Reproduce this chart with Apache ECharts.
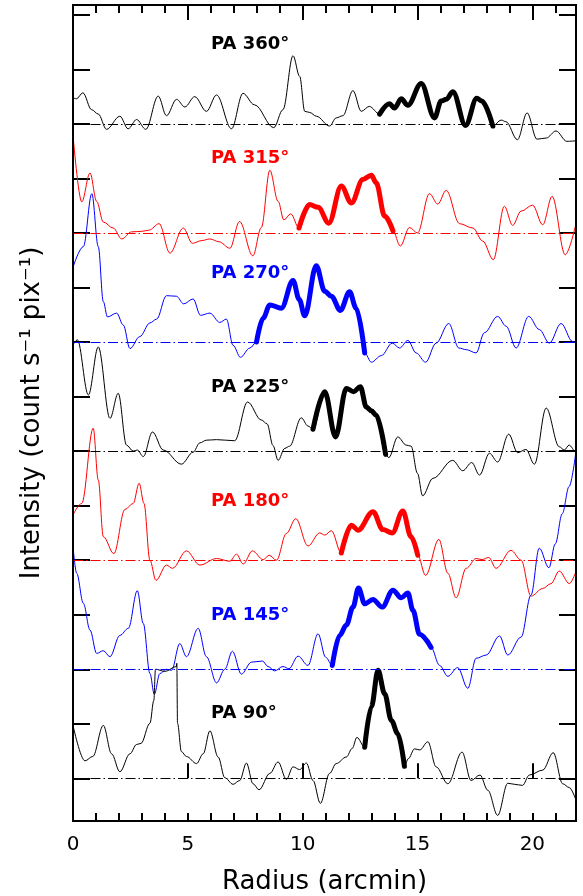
<!DOCTYPE html>
<html>
<head>
<meta charset="utf-8">
<script src="https://cdn.jsdelivr.net/npm/echarts@6/dist/echarts.min.js"></script>
<style>
  html, body { margin: 0; padding: 0; background: #fff; }
  #chart { width: 583px; height: 896px; }
</style>
</head>
<body>
<div id="chart"></div>
<script>
// Radial profiles: [radius (arcmin), intensity above the profile's own baseline]
const pa360 = [[0.0,0.48],[0.15,0.46],[0.43,0.57],[0.81,0.26],[1.1,0.18],[1.46,-0.10],[2.04,0.14],[2.4,-0.09],[2.77,0.08],[3.17,-0.10],[3.71,0.51],[4.07,0.15],[4.51,0.45],[4.87,0.31],[5.3,0.50],[5.81,0.23],[6.25,0.53],[6.9,-0.09],[7.4,0.56],[7.9,0.35],[8.74,-0.07],[9.14,0.26],[9.58,1.25],[9.87,0.87],[10.09,0.23],[10.3,0.21],[10.6,0.14],[11.17,-0.04],[11.46,0.11],[11.75,0.15],[12.19,0.61],[12.55,0.23],[12.9,0.32],[13.35,0.18],[13.78,0.37],[14.0,0.29],[14.29,0.46],[14.58,0.34],[15.16,0.74],[15.74,0.11],[16.03,0.42],[16.25,0.45],[16.54,0.59],[17.09,-0.03],[17.58,0.47],[17.8,0.42],[18.28,-0.04],[18.64,0.07],[18.85,0.04],[19.35,-0.29],[19.77,0.2],[20.2,-0.28],[20.6,-0.26],[21.03,-0.13],[21.5,-0.32],[21.9,-0.31]];
const pa315 = [[0.0,1.8],[0.38,0.57],[0.74,1.1],[1.03,0.58],[1.32,0.20],[1.75,0.09],[2.12,-0.11],[2.55,0.02],[3.0,0.03],[3.3,0.05],[3.75,0.17],[4.22,-0.37],[4.8,0.09],[5.2,-0.19],[5.6,-0.14],[5.96,-0.11],[6.35,-0.16],[6.83,-0.28],[7.25,0.21],[7.83,-0.42],[8.2,0.1],[8.57,1.15],[8.93,0.58],[9.18,0.24],[9.48,0.35],[9.84,0.09],[10.3,0.52],[10.67,0.47],[11.14,0.18],[11.68,0.86],[12.12,0.55],[12.62,0.98],[12.99,1.06],[13.2,0.92],[13.57,0.31],[13.93,0.04],[14.25,-0.24],[14.65,0.10],[15.0,0.0],[15.52,0.72],[15.88,0.53],[16.25,0.78],[16.83,0.17],[17.41,0.09],[17.84,-0.15],[18.3,-0.49],[18.78,0.49],[19.14,0.14],[19.51,0.40],[20.01,0.51],[20.45,0.15],[20.86,0.67],[21.43,-0.40],[21.87,0.12]];
const pa270 = [[0.0,1.37],[0.45,1.75],[0.82,2.72],[1.1,1.75],[1.32,0.74],[1.5,0.46],[1.9,0.53],[2.19,0.31],[2.48,-0.12],[2.91,0.10],[3.35,0.35],[3.64,0.42],[4.07,0.85],[4.5,0.84],[4.82,0.70],[5.23,0.79],[5.55,0.49],[5.96,0.53],[6.39,0.36],[6.68,0.42],[6.97,-0.06],[7.29,-0.28],[7.7,-0.11],[7.99,0.0],[8.28,0.44],[8.57,0.68],[9.07,0.62],[9.58,1.13],[9.85,0.78],[10.09,0.48],[10.59,1.40],[10.96,0.93],[11.25,0.84],[11.64,0.58],[12.04,0.92],[12.33,0.62],[12.7,-0.2],[12.99,-0.37],[13.42,-0.25],[13.9,-0.02],[14.22,-0.11],[14.58,0.03],[14.94,-0.2],[15.35,-0.37],[15.81,-0.02],[16.36,0.34],[16.8,-0.11],[17.12,-0.14],[17.55,-0.20],[17.91,0.17],[18.49,0.47],[18.86,0.29],[19.29,-0.11],[19.84,0.47],[20.3,0.23],[20.74,-0.02],[21.25,0.34],[21.75,0.01],[21.9,-0.02]];
const pa225 = [[0.0,1.95],[0.19,2.04],[0.67,1.03],[1.1,1.91],[1.61,0.60],[1.97,1.06],[2.33,0.11],[2.62,0.0],[2.8,0.02],[3.06,-0.10],[3.46,0.35],[3.93,0.02],[4.72,-0.24],[5.23,-0.02],[5.52,0.15],[5.81,0.20],[6.25,0.21],[7.04,0.19],[7.6,0.90],[8.2,0.57],[8.45,0.50],[8.71,0.1],[8.93,-0.17],[9.22,0.05],[9.43,0.09],[9.94,0.61],[10.23,0.46],[10.45,0.40],[10.96,1.09],[11.43,0.26],[11.9,1.15],[12.22,1.09],[12.51,1.18],[12.77,0.81],[12.99,0.74],[13.2,0.66],[13.61,-0.06],[13.75,-0.12],[14.14,0.26],[14.51,0.11],[14.72,0.09],[15.0,-0.41],[15.22,-0.82],[15.67,-0.50],[16.53,-0.17],[16.97,-0.36],[17.36,-0.21],[17.7,-0.44],[18.13,-0.04],[18.49,-0.20],[18.97,0.31],[19.36,-0.03],[19.72,0.03],[20.09,-0.24],[20.6,0.79],[21.17,0.08],[21.39,0.02],[21.6,0.11],[21.83,-0.01]];
const pa180 = [[0.0,0.83],[0.38,1.04],[0.88,2.42],[1.1,1.47],[1.32,0.43],[1.78,0.12],[2.26,0.93],[2.62,1.04],[2.88,1.41],[3.09,1.04],[3.35,0.0],[3.61,-0.37],[4.07,-0.09],[4.33,-0.15],[4.94,0.17],[5.52,-0.09],[6.25,0.03],[6.83,-0.02],[7.12,0.11],[7.41,-0.07],[7.81,0.17],[8.28,0.01],[8.54,0.09],[8.86,0.0],[9.29,0.49],[9.70,0.76],[10.23,0.26],[10.74,0.50],[10.96,0.46],[11.25,0.54],[11.68,0.13],[12.12,0.64],[12.41,0.55],[13.06,0.89],[13.49,0.56],[13.9,0.50],[14.36,0.90],[14.72,0.43],[15.01,0.09],[15.35,-0.28],[15.93,0.38],[16.32,-0.24],[16.68,-0.69],[17.12,-0.15],[17.55,0.03],[17.81,0.01],[18.1,0.05],[18.42,-0.15],[19.07,0.18],[19.51,0.0],[19.94,-0.66],[20.45,-0.52],[20.81,-0.43],[21.17,-0.20],[21.61,-0.43],[21.87,-0.24]];
const pa145 = [[0.0,2.25],[0.16,1.76],[0.45,1.21],[0.74,0.72],[1.03,0.29],[1.32,0.34],[1.61,0.23],[2.04,0.62],[2.41,0.75],[2.8,1.44],[3.06,0.84],[3.35,-0.08],[3.54,-0.46],[3.78,-0.08],[4.07,0.0],[4.29,-0.02],[4.65,0.47],[4.94,0.23],[5.45,0.75],[5.81,0.23],[6.25,-0.25],[6.61,0.0],[6.94,0.33],[7.33,-0.09],[7.77,0.13],[8.25,0.15],[8.49,0.05],[8.78,-0.03],[9.14,0.05],[9.4,0.01],[9.8,0.24],[10.23,0.07],[10.67,0.65],[11.0,0.22],[11.29,0.07],[11.61,0.62],[11.9,0.81],[12.19,1.14],[12.43,1.49],[12.7,1.20],[13.06,1.28],[13.46,1.14],[13.93,1.45],[14.29,1.31],[14.58,1.40],[14.8,1.08],[15.09,0.64],[15.59,0.40],[15.96,0.07],[16.32,-0.13],[16.75,0.03],[17.19,-0.35],[17.55,0.20],[17.99,0.26],[18.57,0.61],[18.93,0.26],[19.51,0.59],[19.94,1.36],[20.3,2.22],[20.72,1.86],[21.0,2.3],[21.3,2.85],[21.6,3.35],[21.9,4.0]];
const pa90 = [[0.0,0.97],[0.52,0.32],[0.86,0.4],[1.32,0.97],[1.68,0.45],[2.04,0.12],[2.48,0.45],[2.77,0.62],[2.96,0.64],[3.35,1.01],[3.52,1.43],[3.59,2.0],[4.0,1.96],[4.5,2.05],[4.52,2.11],[4.55,1.01],[4.72,0.49],[4.94,0.40],[5.38,0.27],[5.67,0.45],[5.96,0.87],[6.32,0.39],[6.61,0.01],[6.97,-0.11],[7.26,-0.04],[7.55,0.28],[7.84,-0.1],[8.1,-0.21],[8.57,0.09],[8.93,0.30],[9.29,-0.02],[9.58,0.21],[9.87,0.16],[10.16,0.28],[10.45,-0.04],[10.77,-0.46],[11.17,0.09],[11.46,0.27],[11.9,0.39],[12.16,0.55],[12.36,0.75],[12.7,0.57],[12.99,1.31],[13.28,1.98],[13.57,1.55],[13.86,1.06],[14.14,0.82],[14.43,0.22],[14.6,0.36],[14.87,0.54],[15.1,0.52],[15.45,0.67],[15.81,0.21],[16.32,-0.10],[16.94,0.48],[17.33,-0.04],[17.72,0.06],[18.06,-0.22],[18.49,-0.68],[18.93,-0.09],[19.22,-0.11],[19.57,-0.13],[19.87,0.06],[20.45,0.15],[20.91,0.47],[21.32,-0.10],[21.61,-0.17],[21.87,-0.37]];

const profiles = [pa360, pa315, pa270, pa225, pa180, pa145, pa90];
const paNames = ['PA 360°', 'PA 315°', 'PA 270°', 'PA 225°', 'PA 180°', 'PA 145°', 'PA 90°'];
const baselines = [12, 10, 8, 6, 4, 2, 0];
// radius range drawn with the heavy line
const thickRanges = [[13.35, 18.28], [9.84, 13.93], [7.99, 12.7], [10.45, 13.61], [11.68, 15.01], [11.29, 15.59], [12.7, 14.43]];

const colors = ['#000000', '#ff0000', '#0000ff', '#000000', '#ff0000', '#0000ff', '#000000'];
const labelY = [44, 158, 273, 387, 501, 615, 713];

const X_MAX = 21.9;
const font = 'DejaVu Sans, sans-serif';

const chart = echarts.init(document.getElementById('chart'), null, { renderer: 'canvas' });

const series = [];
profiles.forEach((pts, i) => {
  const off = baselines[i];
  const shifted = pts.map(p => [p[0], p[1] + off]);
  const [a, b] = thickRanges[i];
  series.push({
    type: 'line',
    name: paNames[i],
    data: shifted,
    showSymbol: false,
    symbol: 'none',
    smooth: 0.35,
    smoothMonotone: 'x',
    lineStyle: { color: colors[i], width: 1 },
    markLine: {
      silent: true,
      symbol: ['none', 'none'],
      label: { show: false },
      lineStyle: { color: colors[i], width: 1, type: [10, 3, 1.5, 3] },
      data: [{ yAxis: off }]
    }
  });
  series.push({
    type: 'line',
    data: shifted.filter(p => p[0] >= a && p[0] <= b),
    showSymbol: false,
    symbol: 'none',
    smooth: 0.35,
    smoothMonotone: 'x',
    lineStyle: { color: colors[i], width: 5, cap: 'round', join: 'round' }
  });
});

const tickStyle = { color: '#000', width: 2 };

const option = {
  animation: false,
  backgroundColor: '#fff',
  grid: [
    { left: 73, right: 7, top: 5, bottom: 75, outerBoundsMode: 'none', containLabel: false,
      show: true, borderColor: '#000', borderWidth: 2, backgroundColor: 'transparent', z: 10 },
    // tick-only grid: spans from tick 0 (PA 90 baseline) to the top tick
    { left: 73, right: 7, top: 15, bottom: 117.7, outerBoundsMode: 'none', containLabel: false }
  ],
  xAxis: [
    {
      gridIndex: 0, type: 'value', position: 'bottom', min: 0, max: X_MAX, interval: 5,
      axisLine: { show: false },
      axisTick: { inside: true, length: 15, lineStyle: tickStyle },
      axisLabel: {
        color: '#000', fontFamily: font, fontSize: 20, margin: 14, showMaxLabel: false,
        formatter: v => (v % 5 === 0 ? String(v) : '')
      },
      splitLine: { show: false },
      name: 'Radius (arcmin)', nameLocation: 'middle', nameGap: 48,
      nameTextStyle: { color: '#000', fontFamily: font, fontSize: 26 }
    },
    {
      gridIndex: 0, type: 'value', position: 'bottom', min: 0, max: X_MAX, interval: 1,
      axisLine: { show: false },
      axisTick: { inside: true, length: 8, lineStyle: tickStyle },
      axisLabel: { show: false }, splitLine: { show: false }
    },
    {
      gridIndex: 0, type: 'value', position: 'top', min: 0, max: X_MAX, interval: 5,
      axisLine: { show: false },
      axisTick: { inside: true, length: 15, lineStyle: tickStyle },
      axisLabel: { show: false }, splitLine: { show: false }
    },
    {
      gridIndex: 0, type: 'value', position: 'top', min: 0, max: X_MAX, interval: 1,
      axisLine: { show: false },
      axisTick: { inside: true, length: 8, lineStyle: tickStyle },
      axisLabel: { show: false }, splitLine: { show: false }
    },
    { gridIndex: 1, type: 'value', min: 0, max: 1, show: false }
  ],
  yAxis: [
    {
      gridIndex: 0, type: 'value', min: -0.783, max: 14.18,
      axisLine: { show: false }, axisTick: { show: false }, axisLabel: { show: false },
      splitLine: { show: false },
      name: 'Intensity (count s⁻¹ pix⁻¹)', nameLocation: 'middle', nameGap: 28, nameRotate: 90,
      nameTextStyle: { color: '#000', fontFamily: font, fontSize: 26 }
    },
    {
      gridIndex: 1, type: 'value', position: 'left', min: 0, max: 14, interval: 1,
      axisLine: { show: false },
      axisTick: { inside: true, length: 17, lineStyle: tickStyle },
      axisLabel: { show: false }, splitLine: { show: false }
    },
    {
      gridIndex: 1, type: 'value', position: 'right', min: 0, max: 14, interval: 1,
      axisLine: { show: false },
      axisTick: { inside: true, length: 17, lineStyle: tickStyle },
      axisLabel: { show: false }, splitLine: { show: false }
    }
  ],
  series: series,
  graphic: paNames.map((t, i) => ({
    type: 'text',
    x: 211,
    y: labelY[i],
    z: 20,
    style: {
      text: t,
      fill: colors[i],
      font: 'bold 18px ' + font,
      verticalAlign: 'middle'
    }
  }))
};

chart.setOption(option);
</script>
</body>
</html>
